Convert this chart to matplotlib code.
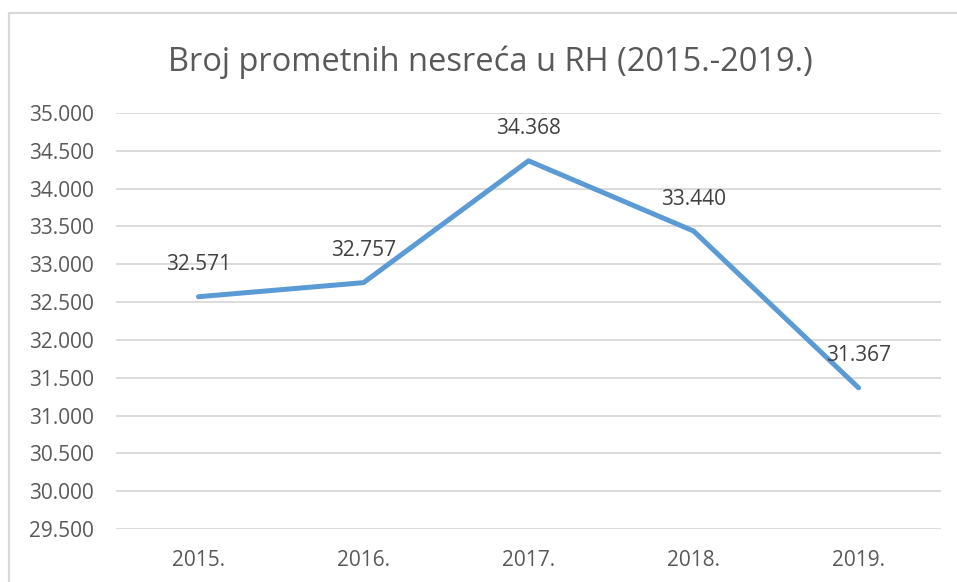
import matplotlib.pyplot as plt
from matplotlib.patches import Rectangle
from matplotlib.ticker import FuncFormatter

# Podaci: broj prometnih nesreca po godinama
godine = ["2015.", "2016.", "2017.", "2018.", "2019."]
nesrece = [32571, 32757, 34368, 33440, 31367]

plt.rcParams['font.family'] = ['Open Sans', 'DejaVu Sans']

fig = plt.figure(figsize=(9.57, 5.82), dpi=100)
ax = fig.add_axes([0.1212, 0.0911, 0.8621, 0.7147])

# okvir grafikona (samo lijevo i gore vidljivo)
fig.patches.append(Rectangle((9 / 957, -0.1), 1.2, 1 - 13 / 582 + 0.1,
                             transform=fig.transFigure, fill=False,
                             edgecolor="#d9d9d9", linewidth=1.6))

x = list(range(len(godine)))
ax.plot(x, nesrece, color="#5B9BD5", linewidth=3.6, solid_capstyle="round",
        zorder=3)

# oznake vrijednosti
for xi, v in zip(x, nesrece):
    ax.annotate(f"{v:,}".replace(",", "."), (xi, v), xytext=(0, 23),
                textcoords="offset points", ha="center", va="center",
                fontsize=15, color="#404040")

ax.set_xlim(-0.5, len(godine) - 0.5)
ax.set_ylim(29500, 35000)
ax.set_yticks(range(29500, 35001, 500))
ax.yaxis.set_major_formatter(FuncFormatter(lambda v, p: f"{int(v):,}".replace(",", ".")))
ax.set_xticks(x)
ax.set_xticklabels(godine)

ax.grid(axis="y", color="#d9d9d9", linewidth=1.3)
ax.set_axisbelow(True)
for s in ax.spines.values():
    s.set_visible(False)
ax.tick_params(length=0, labelsize=15, labelcolor="#595959")
ax.tick_params(axis="y", pad=16)
ax.tick_params(axis="x", pad=15)

fig.text(0.512, 0.8935, "Broj prometnih nesreća u RH (2015.-2019.)",
         ha="center", va="center", fontsize=23.5, color="#595959")

fig.savefig("out.png", dpi=100)
